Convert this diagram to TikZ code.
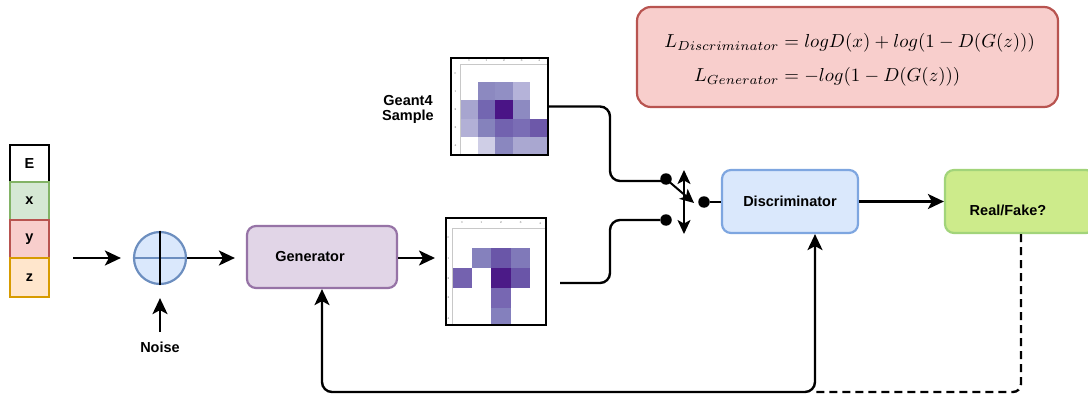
\documentclass[tikz,border=0pt]{standalone}
\usepackage[no-math]{fontspec}
\newfontfamily\lsans{Liberation Sans}
\usetikzlibrary{arrows.meta,calc}
\definecolor{gfill}{HTML}{D5E8D4}\definecolor{gline}{HTML}{82B366}
\definecolor{rfill}{HTML}{F8CECC}\definecolor{rline}{HTML}{B85450}
\definecolor{ofill}{HTML}{FFE6CC}\definecolor{oline}{HTML}{D79B00}
\definecolor{bfill}{HTML}{DAE8FC}\definecolor{bline}{HTML}{6C8EBF}\definecolor{bline2}{HTML}{7EA6E0}
\definecolor{pfill}{HTML}{E1D5E7}\definecolor{pline}{HTML}{9673A6}
\definecolor{lgfill}{HTML}{CDEB8B}\definecolor{lgline}{HTML}{A2D47A}
\definecolor{axis}{HTML}{C8C8C8}
\newcommand\lblfont{\lsans\bfseries\fontsize{14.5}{17}\selectfont}
\tikzset{
  lbl/.style={font=\lblfont, inner sep=0pt},
  stackbox/.style={draw, line width=2.2pt, minimum width=39pt, font=\lblfont, inner sep=0pt},
  mainbox/.style={draw, line width=2.2pt, rounded corners=9pt, inner sep=0pt},
  tipA/.tip={Stealth[length=16pt,width=15pt,inset=4pt]},
  tipB/.tip={Stealth[length=14pt,width=13pt,inset=3.5pt]},
  arr/.style={line width=2.4pt, -tipA},
  biarr/.style={line width=2.4pt, tipA-tipA},
  wire/.style={line width=2.4pt, rounded corners=10pt},
  dotn/.style={circle, fill=black, minimum size=11.5pt, inner sep=0pt},
  tick/.style={font=\fontsize{3}{3}\selectfont, text=black!60, inner sep=0pt},
  imgframe/.style={draw, line width=1.5pt, inner sep=0pt},
  eqn/.style={anchor=base west, inner sep=0pt},
}
\begin{document}
\begin{tikzpicture}[x=1pt,y=-1pt]
\useasboundingbox (0,0) rectangle (1088,396);
% left stack
\node[stackbox, minimum height=37pt] (sE) at (29.5,163.5) {E};
\node[stackbox, minimum height=38pt, fill=gfill, draw=gline] (sx) at (29.5,201) {x};
\node[stackbox, minimum height=38pt, fill=rfill, draw=rline] (sy) at (29.5,239) {y};
\node[stackbox, minimum height=39pt, fill=ofill, draw=oline] (sz) at (29.5,277.5) {z};
% mixer
\node[circle, draw=bline, fill=bfill, line width=2.2pt, minimum size=52pt, inner sep=0pt] (mix) at (160,258) {};
\draw[bline, line width=2.2pt] (mix.west) -- (mix.east);
\draw[line width=2.2pt] (mix.north) -- (mix.south);
\coordinate (in1) at (73,258);
\draw[arr] (in1) -- ($(mix.west)+(-12,0)$);
\node[lbl] (noise) at (160,347) {Noise};
\coordinate (nz) at (160,332);
\draw[arr] (nz) -- ($(mix.south)+(0,13)$);
% generator
\node[mainbox, draw=pline, fill=pfill, minimum width=150pt, minimum height=62pt, font=\lblfont] (gen) at (322,257) {Generator\hspace*{24pt}};
\draw[arr] (mix.east) -- ($(gen.west)+(-11,1)$);
\draw[arr] (gen.east |- 0,258) -- (435,258);
% upper image (Geant4)
\foreach \c/\r/\col in {1/1/8C89C0,2/1/918FC4,3/1/B5B3D9,0/2/A7A5CF,1/2/7366B1,2/2/4A1486,3/2/8D8AC1,0/3/B2B0D6,1/3/8582BC,2/3/7262AF,3/3/7A6DB5,4/3/6D58A9,1/4/CFCEE6,2/4/8A87BF,3/4/AAA8D1,4/4/A9A7D0}{
  \definecolor{tmpc}{HTML}{\col}
  \fill[tmpc] ({460+17.6*\c},{64+18.2*\r}) rectangle ({460+17.6*(\c+1)},{64+18.2*(\r+1)});
}
\draw[axis, line width=0.6pt] (460,155) -- (460,64) -- (548,64);
\foreach \i in {0,...,4}{
  \node[tick] at ({468.8+17.6*\i},60.5) {\i};
  \node[tick] at (455.5,{73.1+18.2*\i}) {\i};
}
\node[imgframe, minimum width=97pt, minimum height=97pt] (img1) at (499.5,106.5) {};
\node[lbl, align=center] (g4) at (408,109) {Geant4\\[-2pt]Sample};
% lower image
\foreach \c/\r/\col in {1/1/8581BD,2/1/6A56A8,3/1/8079B9,0/2/7462AF,2/2/4B1A87,3/2/6A55A8,2/3/7767B2,2/4/8480BD}{
  \definecolor{tmpc}{HTML}{\col}
  \fill[tmpc] ({452+19.6*\c},{228+20*\r}) rectangle ({min(452+19.6*(\c+1),546)},{min(228+20*(\r+1),325)});
}
\draw[axis, line width=0.6pt] (452,325) -- (452,228) -- (546,228);
\foreach \i in {0,...,4}{
  \node[tick] at ({461.8+19.6*\i},223) {\i};
  \node[tick] at (448.5,{238+20*\i}) {\i};
}
\node[imgframe, minimum width=100pt, minimum height=107pt] (img2) at (496,271.5) {};
% switch
\node[dotn] (dotU) at (666,179) {};
\node[dotn] (dotL) at (666,220) {};
\node[dotn] (dotR) at (704,202) {};
\draw[wire] (img1.east) -- (610,106.5) -- (610,181) -- (dotU.south west |- 0,181);
\coordinate (l0) at (560,283);
\draw[wire] (l0) -- (610,283) -- (610,220) -- (dotL);
\draw[line width=2pt, -tipB] (dotU.center) -- ($(dotR.west)+(-4,1)$);
\coordinate (swT) at (684,170);
\coordinate (swB) at (684,234);
\draw[line width=2pt, tipB-tipB] (swT) -- (swB);
% discriminator
\node[mainbox, draw=bline2, fill=bfill, minimum width=136pt, minimum height=63pt, font=\lblfont] (disc) at (790,201.5) {Discriminator};
\draw[line width=1.8pt] (dotR) -- (disc.west |- dotR);
% real/fake
\node[mainbox, draw=lgline, fill=lgfill, minimum width=150pt, minimum height=63pt] (rf) at (1020,201.5) {};
\node[lbl] (rft) at (1008,210) {Real/Fake?};
\draw[arr] (disc.east) -- (rf.west);
% feedback
\coordinate (fbL) at (322,392);
\coordinate (fbR) at (815,392);
\draw[biarr, rounded corners=10pt] (gen.south) -- (fbL) -- (fbR) -- (disc.south -| fbR);
\coordinate (dsh) at (1021,392);
\draw[line width=2.4pt, dash pattern=on 8pt off 5pt, rounded corners=8pt] (rf.south -| dsh) -- (dsh) -- (fbR);
% losses
\node[draw=rline, fill=rfill, line width=2.2pt, rounded corners=14pt, minimum width=421pt, minimum height=100pt, inner sep=0pt] (loss) at (847.5,57) {};
\node[eqn] (eq1) at (779,48) {\scalebox{1.88}{$\llap{$L_{Discriminator}$}{} = logD(x) + log(1-D(G(z)))$}};
\node[eqn] (eq2) at (779,82) {\scalebox{1.88}{$\llap{$L_{Generator}$}{} = -log(1-D(G(z)))$}};
\end{tikzpicture}
\end{document}
